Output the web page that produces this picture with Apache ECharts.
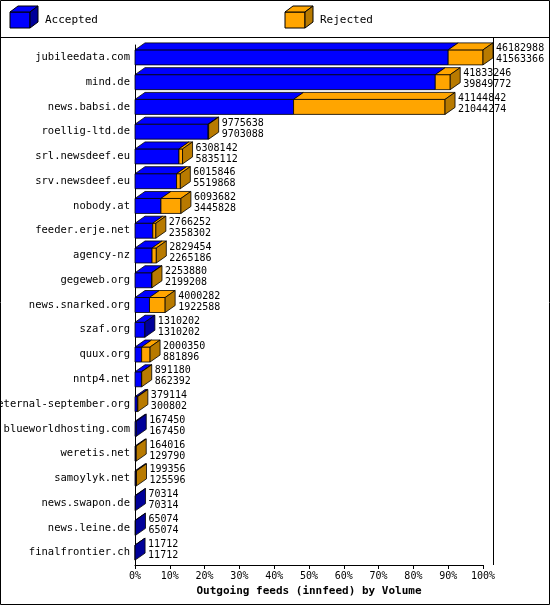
<!DOCTYPE html>
<html><head><meta charset="utf-8">
<script src="https://cdn.jsdelivr.net/npm/echarts@6/dist/echarts.min.js"></script>
<style>body{margin:0;background:#fff}#c{width:550px;height:605px}</style>
</head><body><div id="c"></div>
<script>
const categories = ["jubileedata.com","mind.de","news.babsi.de","roellig-ltd.de","srl.newsdeef.eu","srv.newsdeef.eu","nobody.at","feeder.erje.net","agency-nz","gegeweb.org","news.snarked.org","szaf.org","quux.org","nntp4.net","eternal-september.org","blueworldhosting.com","weretis.net","samoylyk.net","news.swapon.de","news.leine.de","finalfrontier.ch"];
const totals = [46182988,41833246,41144842,9775638,6308142,6015846,6093682,2766252,2829454,2253880,4000282,1310202,2000350,891180,379114,167450,164016,199356,70314,65074,11712];
const accepted = [41563366,39849772,21044274,9703088,5835112,5519868,3445828,2358302,2265186,2199208,1922588,1310202,881896,862392,300802,167450,129790,125596,70314,65074,11712];
const xTicks = [0,10,20,30,40,50,60,70,80,90,100];

const maxT = Math.max(...totals);
const data = categories.map((c,i)=>[i, accepted[i]/maxT*100, totals[i]/maxT*100, totals[i], accepted[i]]);
const FONT = '"DejaVu Sans Mono", monospace';
const DX = 10, DY = -7, H = 15;

function box(x0,x1,y,front,top,side,withSide){
  const els=[];
  const yt=y-H/2, yb=y+H/2;
  if (x1>x0) {
    els.push({type:'rect',shape:{x:x0,y:yt,width:x1-x0,height:H},style:{fill:front,stroke:'#000',lineWidth:0.8}});
    els.push({type:'polygon',shape:{points:[[x0,yt],[x0+DX,yt+DY],[x1+DX,yt+DY],[x1,yt]]},style:{fill:top,stroke:'#000',lineWidth:0.8}});
  }
  if (withSide) els.push({type:'polygon',shape:{points:[[x1,yt],[x1+DX,yt+DY],[x1+DX,yb+DY],[x1,yb]]},style:{fill:side,stroke:'#000',lineWidth:0.8}});
  return els;
}

const chart = echarts.init(document.getElementById('c'));
chart.setOption({
  animation:false,
  grid:{left:135,right:67,top:45,bottom:40,containLabel:false,outerBoundsMode:'none'},
  xAxis:{type:'value',min:0,max:100,interval:10,
    axisLine:{show:true,lineStyle:{color:'#000'}},axisTick:{show:true,length:4,lineStyle:{color:'#000'}},
    splitLine:{show:false},
    axisLabel:{formatter:v=>xTicks.includes(v)?v+'%':'',color:'#000',fontFamily:FONT,fontSize:10,margin:6},
    name:'Outgoing feeds (innfeed) by Volume',nameLocation:'middle',nameGap:20,
    nameTextStyle:{color:'#000',fontFamily:FONT,fontSize:11,fontWeight:'bold'}},
  yAxis:{type:'category',data:categories,inverse:true,
    axisLine:{show:true,lineStyle:{color:'#000'}},axisTick:{show:false},
    axisLabel:{color:'#000',fontFamily:FONT,fontSize:10.5,margin:5}},
  series:[{type:'custom',data:data,renderItem:(params,api)=>{
    const i=api.value(0),a=api.value(1),t=api.value(2);
    const p0=api.coord([0,i]),pa=api.coord([a,i]),pt=api.coord([t,i]);
    const y=p0[1];
    let els=[];
    els=els.concat(box(p0[0],pa[0],y,'#0000ff','#0000ff','#000099',t<=a+1e-9));
    if (t>a+1e-9) els=els.concat(box(pa[0],pt[0],y,'#ffa500','#ffa500','#b87a00',true));
    els.push({type:'text',style:{x:pt[0]+DX+3,y:y-3,text:api.value(3)+'\n'+api.value(4),
      font:'10px '+FONT,fill:'#000',verticalAlign:'middle',lineHeight:11}});
    return {type:'group',children:els};
  }}],
  graphic:[
    {type:'rect',shape:{x:0.5,y:0.5,width:549,height:604},style:{fill:'none',stroke:'#000'}},
    {type:'line',shape:{x1:0,y1:37.5,x2:550,y2:37.5},style:{stroke:'#000'}},
    {type:'line',shape:{x1:493.5,y1:37,x2:493.5,y2:565},style:{stroke:'#000'}},
    {type:'polygon',shape:{points:[[10,12],[30,12],[30,28],[10,28]]},style:{fill:'#0000ff',stroke:'#000'}},
    {type:'polygon',shape:{points:[[10,12],[18,6],[38,6],[30,12]]},style:{fill:'#0000ff',stroke:'#000'}},
    {type:'polygon',shape:{points:[[30,12],[38,6],[38,22],[30,28]]},style:{fill:'#000099',stroke:'#000'}},
    {type:'text',style:{x:45,y:20,text:'Accepted',font:'11px '+FONT,fill:'#000',verticalAlign:'middle'}},
    {type:'polygon',shape:{points:[[285,12],[305,12],[305,28],[285,28]]},style:{fill:'#ffa500',stroke:'#000'}},
    {type:'polygon',shape:{points:[[285,12],[293,6],[313,6],[305,12]]},style:{fill:'#ffa500',stroke:'#000'}},
    {type:'polygon',shape:{points:[[305,12],[313,6],[313,22],[305,28]]},style:{fill:'#b87a00',stroke:'#000'}},
    {type:'text',style:{x:320,y:20,text:'Rejected',font:'11px '+FONT,fill:'#000',verticalAlign:'middle'}}
  ]
});
</script></body></html>
